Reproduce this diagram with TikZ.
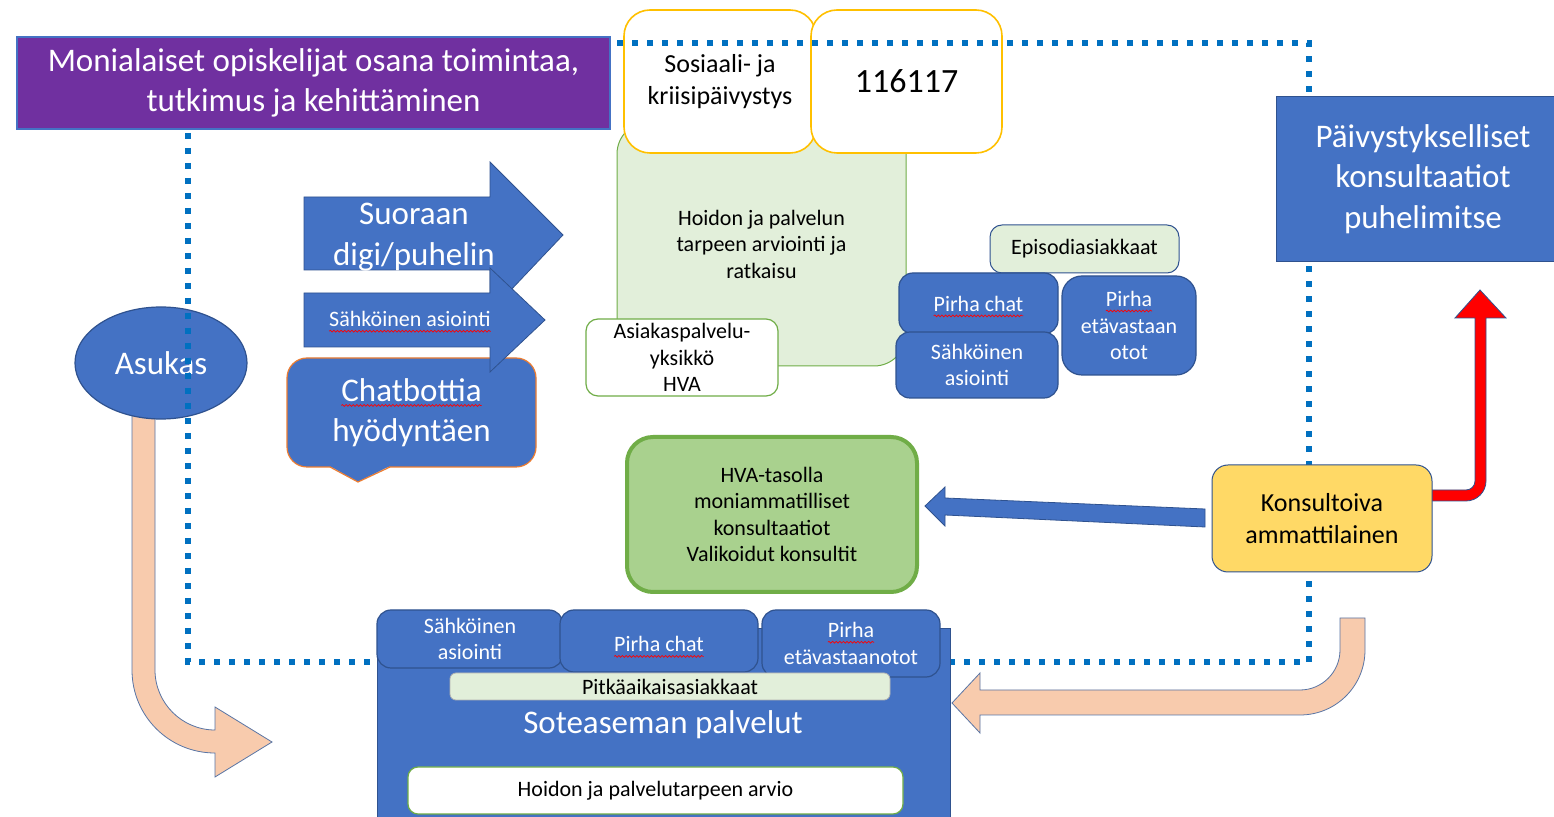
\documentclass[tikz,border=0pt]{standalone}
\usepackage{fontspec}
\setmainfont{Carlito}
\usetikzlibrary{shapes.geometric,positioning,calc,decorations.pathmorphing}

\definecolor{myblue}{HTML}{4472C4}
\definecolor{myblueline}{HTML}{2F528F}
\definecolor{mypurple}{HTML}{7030A0}
\definecolor{mylightgreen}{HTML}{E2EFDA}
\definecolor{mygreen}{HTML}{70AD47}
\definecolor{mymidgreen}{HTML}{A9D18E}
\definecolor{myyellow}{HTML}{FFC000}
\definecolor{mygold}{HTML}{FFD966}
\definecolor{mypeach}{HTML}{F8CBAD}
\definecolor{mydots}{HTML}{0070C0}
\definecolor{myorange}{HTML}{ED7D31}

\newcommand\isoteksti{\fontsize{16.5}{20.25}\selectfont}
\newcommand\keskiteksti{\fontsize{13}{16}\selectfont}
\newcommand\pieniteksti{\fontsize{11}{13.25}\selectfont}

%% red wavy line under the words that the spell checker did not like
\newcommand\spell[1]{\tikz[baseline=(w.base)]{\node[shape=rectangle, draw=none, fill=none, inner sep=0pt, outer sep=0pt, minimum width=0pt, minimum height=0pt, rounded corners=0pt, text depth=0pt] (w) {#1};
  \draw[red, line width=0.35pt, rounded corners=0pt, decorate, decoration={snake, amplitude=0.45pt, segment length=1.8pt}] ([yshift=-2.2pt]w.base west) -- ([yshift=-2.2pt]w.base east);}}

\tikzset{
  bluebox/.style={draw=myblueline, fill=myblue, text=white, line width=0.6pt, rounded corners=7pt, align=center, inner sep=0pt, font=\pieniteksti},
  lightbox/.style={draw=mygreen, fill=mylightgreen, line width=0.5pt, rounded corners=16pt, align=center, inner sep=0pt, font=\pieniteksti},
  whitebox/.style={draw=mygreen, fill=white, line width=0.6pt, rounded corners=6pt, align=center, inner sep=0pt, font=\pieniteksti},
  yellowbox/.style={draw=myyellow, fill=white, line width=0.8pt, rounded corners=13pt, align=center, inner sep=0pt, font=\keskiteksti},
  blockarrow/.style={fill=myblue, draw=myblueline, line width=0.4pt},
  peacharrow/.style={fill=mypeach, draw=myblueline!80, line width=0.4pt},
  dotline/.style={draw=mydots, line width=3pt, dash pattern=on 3pt off 4.5pt},
  plaintext/.style={align=center, inner sep=0pt},
}

\begin{document}
\begin{tikzpicture}[x=0.5pt,y=-0.5pt]
	\fill[white] (0,0) rectangle (1554,817);
	\useasboundingbox (0,0) rectangle (1554,817);

	%% the light green box sits behind the two yellow ones
	\node[lightbox, minimum width=144.5pt, minimum height=122pt] (arviointi) at (761.5,244) {Hoidon ja palvelun\\tarpeen arviointi ja\\ratkaisu};
	\node[yellowbox, minimum width=96pt, minimum height=71.5pt] (kriisi) at (720,81.5) {Sosiaali- ja\\kriisipäivystys};
	\node[yellowbox, minimum width=95.5pt, minimum height=71.5pt, font=\fontsize{17}{20}\selectfont] (numero) at (906.5,81.5) {116117};
	\node[whitebox, minimum width=96pt, minimum height=38.5pt] (asiakaspalvelu) at (682,357.5) {Asiakaspalvelu-\\yksikkö\\HVA};

	%% small boxes on the right of the green one
	\node[lightbox, draw=myblueline, rounded corners=6pt, minimum width=94.5pt, minimum height=24pt] (episodi) at (1084.5,249) {Episodiasiakkaat};
	\node[bluebox, minimum width=79.5pt, minimum height=30.5pt, text height=8pt, text depth=0pt] (pchat) at (978.5,303.5) {\spell{Pirha chat}};
	\node[bluebox, minimum width=81pt, minimum height=33pt] (sahkoinen) at (977,365) {Sähköinen\\asiointi};
	\node[bluebox, rounded corners=10pt, minimum width=67pt, minimum height=49.5pt] (peta) at (1129,325.5) {\spell{Pirha}\\etävastaan\\otot};

	%% block arrows and the speech bubble
	\draw[blockarrow] (304,197) -- (490,197) -- (490,162) -- (563,235) -- (490,312) -- (490,270) -- (304,270) -- cycle;
	\node[bluebox, draw=myorange, rounded corners=10pt, minimum width=124.5pt, minimum height=54.5pt, font=\isoteksti] (chatbot) at (411.5,412.5) {\spell{Chatbottia}\\hyödyntäen};
	\fill[myblue] (328,465) -- (358,482) -- (392,465) -- cycle;
	\draw[myorange, line width=0.6pt] (330,467) -- (358,482) -- (390,467);
	\draw[blockarrow] (304,293) -- (490,293) -- (490,268) -- (545,320) -- (490,372) -- (490,347) -- (304,347) -- cycle;
	\node[plaintext, text=white, font=\isoteksti] (suoraan) at (414,237) {Suoraan\\digi/puhelin};
	\node[plaintext, text=white, font=\pieniteksti] (sahkoasiointi) at (410,322) {\spell{Sähköinen asiointi}};

	%% peach arrows
	\draw[peacharrow] (132,405) -- (132,670) .. controls (132,716) and (169,753) .. (215,753) -- (215,777) -- (272,742) -- (215,707) -- (215,730) .. controls (182,730) and (155,703) .. (155,670) -- (155,405) -- cycle;
	\draw[peacharrow] (1365,618) -- (1365,650) .. controls (1365,686) and (1336,715) .. (1300,715) -- (980,715) -- (980,733) -- (952,703) -- (980,673) -- (980,690) -- (1300,690) .. controls (1322,690) and (1340,672) .. (1340,650) -- (1340,618) -- cycle;
	\node[ellipse, draw=myblueline, fill=myblue, text=white, line width=0.6pt, minimum width=86pt, minimum height=56pt, inner sep=0pt, font=\isoteksti] (asukas) at (161,363) {Asukas};

	%% dotted frame, goes over the yellow boxes and the ellipse
	\draw[dotline] (188,43) rectangle (1309,662);

	\node[plaintext, draw=myblue, fill=mypurple, text=white, line width=0.8pt, minimum width=296.5pt, minimum height=46pt, font=\isoteksti] (opiskelijat) at (313.5,83) {Monialaiset opiskelijat osana toimintaa,\\tutkimus ja kehittäminen};
	\node[plaintext, draw=myblueline, fill=myblue, text=white, line width=0.4pt, minimum width=147pt, minimum height=82.5pt, font=\isoteksti] (paivystys) at (1423,179) {Päivystykselliset\\konsultaatiot\\puhelimitse};

	%% red arrow up to the phone consultations
	\draw[fill=red, draw=myblueline, line width=0.4pt] (1428,490) -- (1466,490) .. controls (1471,490) and (1475,486) .. (1475,481) -- (1475,318) -- (1455,318) -- (1480,290) -- (1506,318) -- (1486,318) -- (1486,481) .. controls (1486,492) and (1477,501) .. (1466,501) -- (1428,501) -- cycle;
	\node[plaintext, draw=myblueline, fill=mygold, line width=0.5pt, rounded corners=8pt, minimum width=110pt, minimum height=53.5pt, font=\keskiteksti] (konsultoiva) at (1322,518.5) {Konsultoiva\\ammattilainen};

	\node[plaintext, draw=mygreen, fill=mymidgreen, line width=2pt, rounded corners=13pt, minimum width=145pt, minimum height=77.5pt, font=\pieniteksti] (hva) at (772,514.5) {HVA-tasolla\\moniammatilliset\\konsultaatiot\\Valikoidut konsultit};
	\draw[blockarrow] (1205,509) -- (945,498) -- (945,487) -- (925,506) -- (945,526) -- (945,515) -- (1205,527) -- cycle;

	%% soteasema with its tabs
	\node[plaintext, draw=myblueline, fill=myblue, line width=0.4pt, minimum width=286.5pt, minimum height=102pt] (sote) at (663.5,730) {};
	\node[bluebox, minimum width=93pt, minimum height=29pt] (tab1) at (470,639) {Sähköinen\\asiointi};
	\node[bluebox, minimum width=99pt, minimum height=31pt, text height=11pt, text depth=0pt] (tab2) at (659,641) {\spell{Pirha chat}};
	\node[bluebox, minimum width=89pt, minimum height=33.5pt] (tab3) at (851,643.5) {\spell{Pirha}\\etävastaanotot};
	\node[plaintext, draw=gray!60, fill=mylightgreen, line width=0.4pt, rounded corners=3pt, minimum width=220pt, minimum height=13.5pt, font=\pieniteksti] (pitka) at (670,686.5) {Pitkäaikaisasiakkaat};
	\node[plaintext, text=white, font=\isoteksti] (sotetitle) at (663,725) {Soteaseman palvelut};
	\node[whitebox, rounded corners=5pt, minimum width=247.5pt, minimum height=23.5pt] (arvio) at (655.5,790.5) {Hoidon ja palvelutarpeen arvio};
\end{tikzpicture}
\end{document}
